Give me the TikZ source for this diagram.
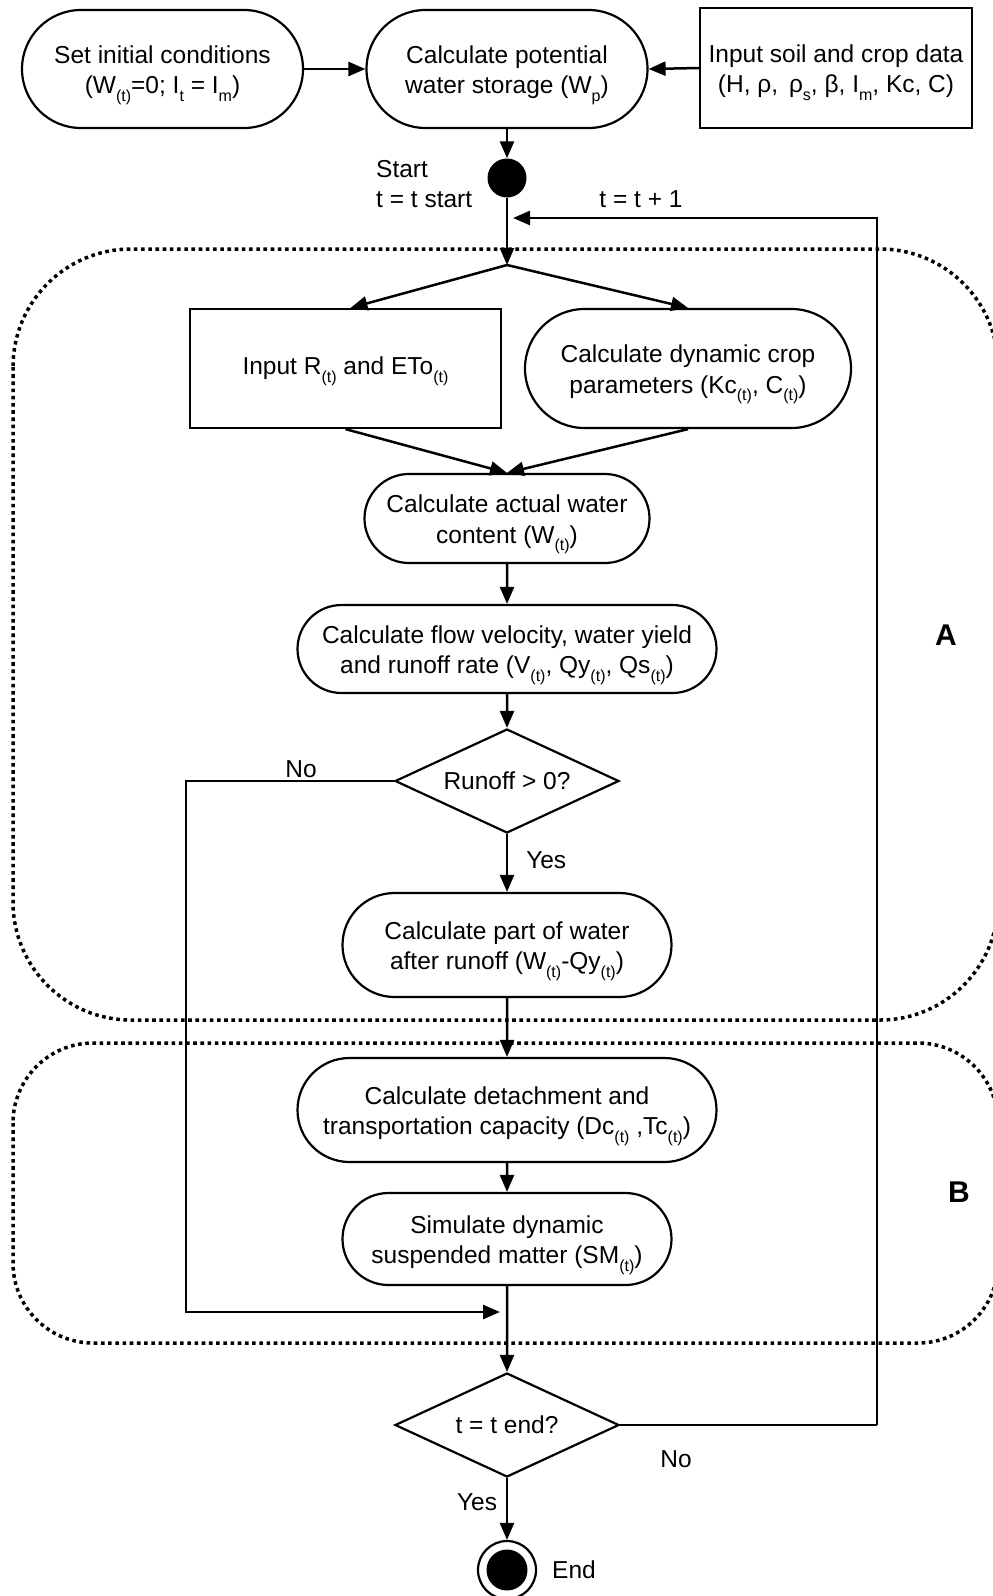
\documentclass[tikz,border=0pt]{standalone}
\usepackage{fontspec}
\setmainfont{Liberation Sans}
\usetikzlibrary{arrows.meta,shapes.misc,shapes.geometric}
\newcommand\lo[1]{\raisebox{-0.3em}[\height][0pt]{\fontsize{16}{16}\selectfont #1}}
\newcommand\up{\rule{0pt}{24pt}}
\tikzset{
  proc/.style={rounded rectangle, draw, line width=2.2pt, align=center, inner sep=0pt},
  databox/.style={rectangle, draw, line width=2.2pt, align=center, inner sep=0pt},
  decide/.style={diamond, aspect=2.2, draw, line width=2.2pt, align=center, inner sep=0pt,
                 minimum width=224pt, minimum height=104pt},
  flow/.style={line width=2.5pt, -{Triangle[length=17pt,width=14pt]}},
  plain/.style={line width=2.5pt},
  region/.style={line width=3.5pt, dash pattern=on 3.6pt off 3.6pt},
  lbl/.style={inner sep=0pt},
  part/.style={inner sep=0pt, font=\fontsize{30}{30}\selectfont\bfseries}
}
\begin{document}
\begin{tikzpicture}[x=1pt,y=-1pt,font=\fontsize{24.5}{30.5}\selectfont]
\useasboundingbox (0,0) rectangle (993,1596);
\clip (0,0) rectangle (993,1596);

% dotted regions A and B
\draw[region, rounded corners=118pt] (13,249) rectangle (998,1020);
\draw[region, rounded corners=80pt] (13,1043) rectangle (998,1343);
\node[part] (labA) at (946,635) {A};
\node[part] (labB) at (959,1192) {B};

% top row
\node[proc, minimum width=281pt, minimum height=118pt] (init) at (162.5,69)
  {\up Set initial conditions\\(W\lo{(t)}=0; I\lo{t} = I\lo{m})};
\node[proc, minimum width=281pt, minimum height=118pt] (potential) at (507,69)
  {\up Calculate potential\\water storage (W\lo{p})};
\node[databox, minimum width=272pt, minimum height=120pt] (soil) at (836,68)
  {\up Input soil and crop data\\(H, ρ,\, ρ\lo{s}, β, I\lo{m}, Kc, C)};

% start
\node[circle, fill, inner sep=0pt, minimum size=39pt] (start) at (507,178) {};
\node[lbl, anchor=west, align=left] (startlbl) at (376,184) {Start\\t = t start};
\coordinate (split) at (507,265);
\coordinate (loopin) at (513,218);
\node[lbl] (inc) at (641,199) {t = t + 1};

% inputs
\node[databox, minimum width=311pt, minimum height=119pt] (inputR) at (345.5,368.5)
  {Input R\lo{(t)} and ETo\lo{(t)}};
\node[proc, minimum width=326pt, minimum height=119pt] (dyncrop) at (688,368.5)
  {\up Calculate dynamic crop\\parameters (Kc\lo{(t)}, C\lo{(t)})};

% water balance
\node[proc, minimum width=285pt, minimum height=89pt] (actual) at (507,518.5)
  {\up Calculate actual water\\content (W\lo{(t)})};
\node[proc, minimum width=419pt, minimum height=88pt] (velocity) at (507,649)
  {\up Calculate flow velocity, water yield\\and runoff rate (V\lo{(t)}, Qy\lo{(t)}, Qs\lo{(t)})};
\node[decide] (runoff) at (507,781) {Runoff > 0?};
\node[proc, minimum width=329pt, minimum height=104pt] (after) at (507,945)
  {\up Calculate part of water\\after runoff (W\lo{(t)}-Qy\lo{(t)})};

% sediment
\node[proc, minimum width=419pt, minimum height=104pt] (detach) at (507,1110)
  {\up Calculate detachment and\\transportation capacity (Dc\lo{(t)} ,Tc\lo{(t)})};
\node[proc, minimum width=329pt, minimum height=92pt] (simulate) at (507,1239)
  {\up Simulate dynamic\\suspended matter (SM\lo{(t)})};
\coordinate (merge) at (500,1312);

% time loop end
\node[decide] (tend) at (507,1425) {t = t end?};
\node[circle, draw, line width=2.2pt, inner sep=0pt, minimum size=58pt,
      path picture={\fill (path picture bounding box.center) circle (20.5pt);}]
      (finish) at (507,1570) {};
\node[lbl, anchor=west] (endlbl) at (552,1570) {End};

% connectors
\draw[flow] (init.east) -- (potential.west);
\draw[flow] (soil.west) -- (potential.east);
\draw[flow] (potential.south) -- (start.north);
\draw[flow] (start.south) -- (split);
\draw[flow] (split) -- ([xshift=5pt]inputR.north);
\draw[flow] (split) -- (dyncrop.north);
\draw[flow] (inputR.south) -- (actual.north);
\draw[flow] (dyncrop.south) -- (actual.north);
\draw[flow] (actual) -- (velocity);
\draw[flow] (velocity) -- (runoff);
\draw[flow] (runoff) -- node[lbl, right=18pt, pos=0.45] (yes1) {Yes} (after);
\draw[flow] (runoff.west) -- (186,781) |- (merge);
\node[lbl] (no1) at (301,769) {No};
\draw[flow] (after) -- (detach);
\draw[flow] (detach) -- (simulate);
\draw[flow] (simulate) -- (tend);
\draw[plain] (tend.east) -- (877,1425);
\draw[flow] (877,1425) |- (loopin);
\node[lbl] (no2) at (676,1459) {No};
\draw[flow] (tend) -- (finish);
\node[lbl] (yes2) at (477,1502) {Yes};
\end{tikzpicture}
\end{document}
